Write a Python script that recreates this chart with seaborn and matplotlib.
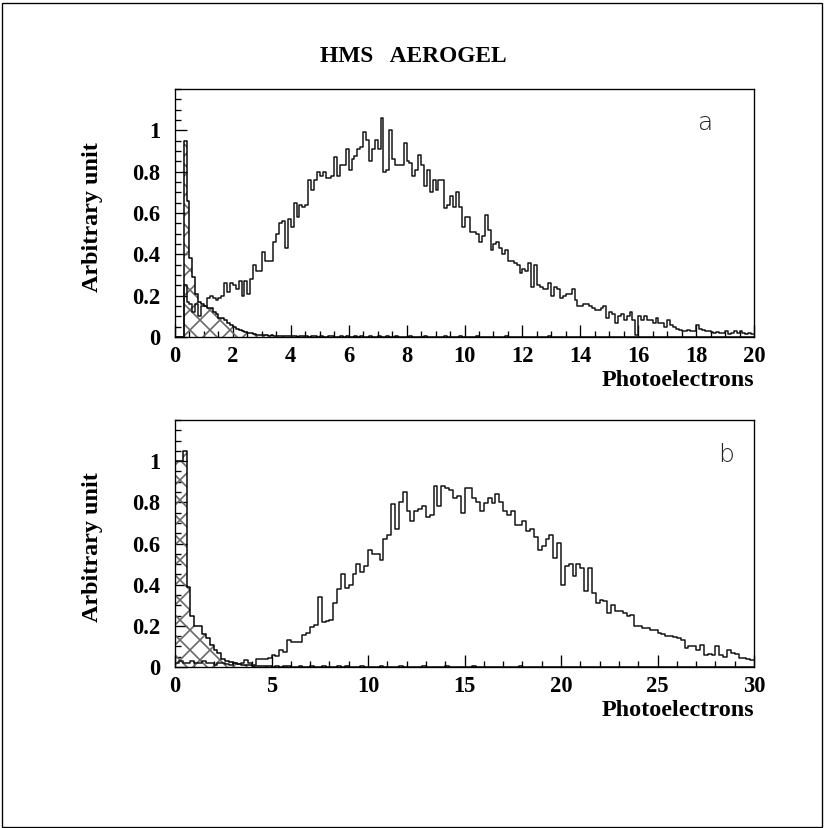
import numpy as np
import pandas as pd
import matplotlib
matplotlib.use("Agg")
import matplotlib.pyplot as plt
import seaborn as sns
from matplotlib.ticker import MultipleLocator, FixedLocator, FuncFormatter
from matplotlib.patches import Rectangle

# ---------------- data ----------------
title = "HMS   AEROGEL"
xlabel = "Photoelectrons"
ylabel = "Arbitrary unit"
panel_labels = ["a", "b"]

range_a = (0.0, 20.0)
nbins_a = 200
range_b = (0.0, 30.0)
nbins_b = 150

# panel a: electrons (open histogram), bin width 0.1
main_a = [
    0, 0, 0, 0.25, 0.17, 0.16, 0.12, 0.16, 0.10, 0.15,
    0.15, 0.19, 0.20, 0.19, 0.18, 0.19, 0.20, 0.26, 0.22, 0.26,
    0.25, 0.23, 0.27, 0.20, 0.27, 0.21, 0.28, 0.35, 0.32, 0.32,
    0.41, 0.37, 0.37, 0.37, 0.46, 0.50, 0.55, 0.56, 0.43, 0.57,
    0.53, 0.65, 0.58, 0.64, 0.63, 0.64, 0.76, 0.71, 0.76, 0.80,
    0.78, 0.80, 0.77, 0.77, 0.78, 0.87, 0.78, 0.83, 0.83, 0.91,
    0.81, 0.86, 0.875, 0.91, 0.92, 0.99, 0.955, 0.85, 0.91, 0.955,
    0.91, 1.06, 0.80, 0.81, 1.00, 0.86, 0.83, 0.83, 0.83, 0.94,
    0.85, 0.84, 0.78, 0.81, 0.88, 0.83, 0.73, 0.81, 0.70, 0.76,
    0.71, 0.76, 0.76, 0.625, 0.64, 0.68, 0.63, 0.70, 0.63, 0.53,
    0.58, 0.58, 0.51, 0.51, 0.50, 0.46, 0.49, 0.59, 0.52, 0.42,
    0.45, 0.46, 0.43, 0.40, 0.42, 0.37, 0.37, 0.36, 0.35, 0.31,
    0.33, 0.32, 0.36, 0.24, 0.35, 0.25, 0.24, 0.23, 0.23, 0.26,
    0.20, 0.24, 0.23, 0.19, 0.20, 0.21, 0.21, 0.23, 0.18, 0.15,
    0.15, 0.16, 0.16, 0.15, 0.14, 0.13, 0.13, 0.14, 0.15, 0.09,
    0.12, 0.11, 0.07, 0.10, 0.11, 0.08, 0.10, 0.12, 0.08, 0.01,
    0.10, 0.08, 0.10, 0.08, 0.08, 0.07, 0.09, 0.07, 0.07, 0.05,
    0.08, 0.06, 0.05, 0.04, 0.035, 0.03, 0.03, 0.035, 0.03, 0.03,
    0.06, 0.04, 0.035, 0.03, 0.03, 0.025, 0.02, 0.025, 0.02, 0.02,
    0.03, 0.015, 0.02, 0.03, 0.02, 0.03, 0.02, 0.015, 0.02, 0.015,
]

# panel a: pions (hatched histogram)
hatched_a = [
    0, 0, 0, 0.95, 0.66, 0.38, 0.29, 0.21, 0.17, 0.16,
    0.15, 0.14, 0.14, 0.12, 0.11, 0.09, 0.09, 0.08, 0.07, 0.06,
    0.05, 0.04, 0.035, 0.03, 0.025, 0.02, 0.02, 0.015, 0.01, 0.012,
    0.008, 0.01, 0.006, 0.008, 0.005, 0.007, 0.004, 0.006, 0.005, 0.004,
    0.003, 0.005, 0.002, 0.004, 0.006, 0.003, 0.002, 0.005, 0.003, 0.002,
    0.004, 0.002, 0.0, 0.003, 0.005, 0.002, 0.0, 0.004, 0.002, 0.003,
    0.0, 0.002, 0.004, 0.0, 0.003, 0.002, 0.0, 0.005, 0.002, 0.0,
    0.003, 0.0, 0.002, 0.004, 0.0, 0.002, 0.003, 0.0, 0.0, 0.002,
    0.0, 0.003, 0.0, 0.002, 0.0, 0.0, 0.004, 0.0, 0.002, 0.0,
    0.002, 0.0, 0.0, 0.003, 0.0, 0.002, 0.0, 0.0, 0.003, 0.0,
    0.0, 0.002, 0.0, 0.0, 0.003, 0.0, 0.0, 0.002, 0.0, 0.0,
    0.002, 0.0, 0.0, 0.0, 0.003, 0.0, 0.0, 0.002, 0.0, 0.0,
    0.0, 0.002, 0.0, 0.0, 0.0, 0.002, 0.0, 0.0, 0.0, 0.003,
    0.0, 0.0, 0.002, 0.0, 0.0, 0.0, 0.002, 0.0, 0.0, 0.0,
    0.002, 0.0, 0.0, 0.0, 0.0, 0.002, 0.0, 0.0, 0.0, 0.0,
    0.0, 0.002, 0.0, 0.0, 0.0, 0.0, 0.002, 0.0, 0.0, 0.0,
    0.0, 0.0, 0.002, 0.0, 0.0, 0.0, 0.0, 0.0, 0.002, 0.0,
    0.0, 0.0, 0.0, 0.0, 0.002, 0.0, 0.0, 0.0, 0.0, 0.0,
    0.0, 0.0, 0.0, 0.002, 0.0, 0.0, 0.0, 0.0, 0.0, 0.0,
    0.0, 0.0, 0.0, 0.0, 0.0, 0.0, 0.002, 0.0, 0.0, 0.0,
]

# panel b: electrons (open histogram), bin width 0.2
main_b = [
    0.02, 0.03, 0.02, 0.02, 0.03, 0.02, 0.02, 0.03, 0.02, 0.02,
    0.01, 0.02, 0.02, 0.015, 0.01, 0.02, 0.015, 0.02, 0.035, 0.02,
    0.01, 0.04, 0.04, 0.04, 0.045, 0.06, 0.055, 0.085, 0.075, 0.13,
    0.12, 0.12, 0.12, 0.155, 0.165, 0.195, 0.205, 0.34, 0.22, 0.225,
    0.23, 0.31, 0.38, 0.45, 0.385, 0.40, 0.45, 0.50, 0.46, 0.49,
    0.57, 0.55, 0.55, 0.52, 0.62, 0.64, 0.79, 0.67, 0.80, 0.85,
    0.76, 0.71, 0.76, 0.77, 0.78, 0.73, 0.74, 0.88, 0.78, 0.88,
    0.87, 0.86, 0.82, 0.83, 0.75, 0.87, 0.87, 0.82, 0.80, 0.76,
    0.795, 0.82, 0.795, 0.84, 0.80, 0.76, 0.74, 0.76, 0.69, 0.69,
    0.71, 0.66, 0.67, 0.63, 0.57, 0.59, 0.62, 0.64, 0.53, 0.60,
    0.40, 0.49, 0.50, 0.44, 0.50, 0.48, 0.37, 0.48, 0.36, 0.31,
    0.325, 0.32, 0.26, 0.30, 0.27, 0.27, 0.26, 0.25, 0.255, 0.20,
    0.20, 0.19, 0.19, 0.18, 0.18, 0.165, 0.16, 0.15, 0.15, 0.145,
    0.14, 0.13, 0.09, 0.10, 0.10, 0.085, 0.105, 0.06, 0.065, 0.06,
    0.10, 0.06, 0.05, 0.085, 0.07, 0.065, 0.045, 0.045, 0.04, 0.035,
]

# panel b: pions (hatched histogram)
hatched_b = [
    1.0, 1.0, 1.05, 0.39, 0.25, 0.20, 0.20, 0.16, 0.14, 0.105,
    0.085, 0.066, 0.04, 0.03, 0.025, 0.02, 0.015, 0.012, 0.008, 0.01,
    0.006, 0.004, 0.007, 0.003, 0.005, 0.002, 0.004, 0.0, 0.003, 0.006,
    0.002, 0.0, 0.004, 0.002, 0.0, 0.003, 0.0, 0.002, 0.005, 0.0,
    0.002, 0.0, 0.003, 0.0, 0.004, 0.002, 0.0, 0.0, 0.003, 0.0,
    0.0, 0.002, 0.0, 0.004, 0.0, 0.0, 0.002, 0.0, 0.003, 0.0,
    0.0, 0.002, 0.0, 0.0, 0.003, 0.0, 0.0, 0.0, 0.002, 0.0,
    0.004, 0.0, 0.0, 0.002, 0.0, 0.0, 0.0, 0.003, 0.0, 0.0,
    0.0, 0.002, 0.0, 0.0, 0.0, 0.0, 0.002, 0.0, 0.0, 0.003,
    0.0, 0.0, 0.0, 0.002, 0.0, 0.0, 0.0, 0.0, 0.0, 0.002,
    0.0, 0.0, 0.0, 0.0, 0.002, 0.0, 0.0, 0.0, 0.0, 0.0,
    0.0, 0.002, 0.0, 0.0, 0.0, 0.0, 0.0, 0.0, 0.002, 0.0,
    0.0, 0.0, 0.0, 0.0, 0.0, 0.002, 0.0, 0.0, 0.0, 0.0,
    0.0, 0.0, 0.0, 0.0, 0.0, 0.0, 0.0, 0.002, 0.0, 0.0,
    0.0, 0.0, 0.0, 0.0, 0.0, 0.0, 0.0, 0.0, 0.0, 0.0,
]

yticks = [0, 0.2, 0.4, 0.6, 0.8, 1.0]

# ---------------- style ----------------
sns.set_theme(style="white")
plt.rcParams["font.family"] = ["Liberation Serif", "DejaVu Serif"]
plt.rcParams["hatch.linewidth"] = 1.0
plt.rcParams["hatch.color"] = "#6a6a6a"

DPI = 120
fig = plt.figure(figsize=(825 / DPI, 828 / DPI), dpi=DPI, facecolor="white")

W, H = 825.0, 828.0
def axes_rect(left, top, right, bottom):
    return [left / W, 1 - bottom / H, (right - left) / W, (bottom - top) / H]

ax_a = fig.add_axes(axes_rect(175, 89, 754, 337))
ax_b = fig.add_axes(axes_rect(175, 420, 754, 667))

fmt = FuncFormatter(lambda v, p: "%g" % round(v, 3))

def draw_panel(ax, xr, nb, main, hatched, xmajor, xminor, label, label_pos):
    edges = np.linspace(xr[0], xr[1], nb + 1)
    df = pd.DataFrame({
        "pe": 0.5 * (edges[:-1] + edges[1:]),
        "main": np.asarray(main, dtype=float),
        "hatched": np.asarray(hatched, dtype=float),
    })
    bin_edges = list(edges)
    # hatched (pion) histogram
    n_before = len(ax.collections)
    sns.histplot(data=df, x="pe", weights="hatched", bins=bin_edges,
                 element="step", fill=True, ax=ax, color="#6a6a6a")
    for coll in ax.collections[n_before:]:
        coll.set_facecolor("none")
        coll.set_edgecolor("#6a6a6a")
        coll.set_linewidth(0)
        coll.set_hatch("xx")
    sns.histplot(data=df, x="pe", weights="hatched", bins=bin_edges,
                 element="step", fill=False, ax=ax, color="black", linewidth=0.9)
    # electron histogram
    sns.histplot(data=df, x="pe", weights="main", bins=bin_edges,
                 element="step", fill=False, ax=ax, color="#111111", linewidth=0.9)

    ax.set_xlim(*xr)
    ax.set_ylim(0, 1.2)
    ax.set_facecolor("white")
    for s in ax.spines.values():
        s.set_color("black")
        s.set_linewidth(0.8)

    ax.yaxis.set_major_locator(FixedLocator(yticks))
    ax.yaxis.set_minor_locator(MultipleLocator(0.05))
    ax.yaxis.set_major_formatter(fmt)
    ax.xaxis.set_major_locator(MultipleLocator(xmajor))
    ax.xaxis.set_minor_locator(MultipleLocator(xminor))
    ax.xaxis.set_major_formatter(fmt)
    ax.tick_params(which="major", direction="in", length=7.4, width=0.8,
                   color="black", bottom=True, left=True, top=False, right=False)
    ax.tick_params(which="minor", direction="in", length=3.6, width=0.8,
                   color="black", bottom=True, left=True, top=False, right=False)
    ax.tick_params(axis="y", which="major", pad=9)
    ax.tick_params(axis="x", which="major", pad=5.5)
    for t in ax.get_xticklabels() + ax.get_yticklabels():
        t.set_fontweight("bold")
        t.set_fontsize(13.5)
        t.set_color("black")

    ax.set_xlabel(xlabel, fontsize=14.5, fontweight="bold", color="black")
    ax.xaxis.set_label_coords(1.0, -0.177)
    ax.xaxis.label.set_ha("right")
    ax.xaxis.label.set_va("center")
    ax.set_ylabel(ylabel, fontsize=14.5, fontweight="bold", color="black")
    ax.yaxis.set_label_coords(-0.143, 0.484)
    ax.yaxis.label.set_va("center")

    ax.text(label_pos[0], label_pos[1], label, fontsize=15, color="#222222",
            family="DejaVu Sans", fontweight="light", ha="center", va="baseline")

draw_panel(ax_a, range_a, nbins_a, main_a, hatched_a, 2, 0.5,
           panel_labels[0], (18.34, 1.0))
draw_panel(ax_b, range_b, nbins_b, main_b, hatched_b, 5, 1,
           panel_labels[1], (28.55, 0.997))

fig.text(413 / W, 1 - 57 / H, title, fontsize=14, fontweight="bold",
         ha="center", va="center", color="black")

fig.patches.append(Rectangle((1.5 / W, 1.5 / H), (822 - 1.5) / W, (825 - 1.5) / H,
                             transform=fig.transFigure, fill=False,
                             edgecolor="black", linewidth=0.8))

fig.savefig("out.png", dpi=DPI, facecolor="white")
